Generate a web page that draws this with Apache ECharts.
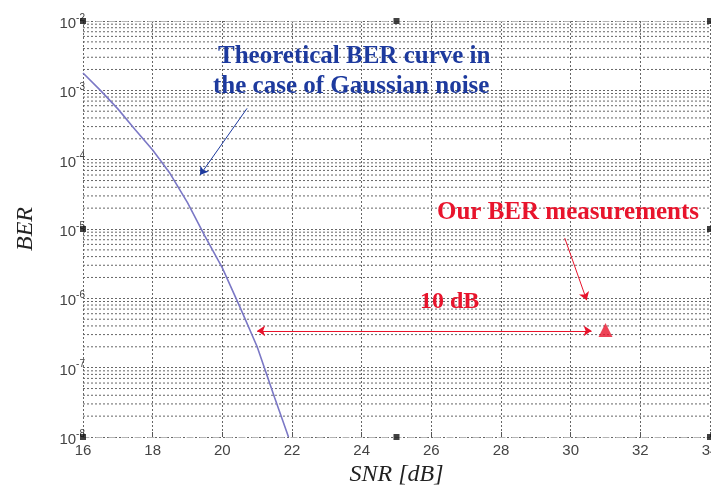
<!DOCTYPE html>
<html>
<head>
<meta charset="utf-8">
<script src="https://cdn.jsdelivr.net/npm/echarts@6/dist/echarts.min.js"></script>
<style>
  html, body { margin: 0; padding: 0; background: #fff; }
  #chart { width: 711px; height: 490px; }
</style>
</head>
<body>
<div id="chart"></div>
<script>
// SNR in dB and theoretical BER
const snr = [16, 16.5, 17, 17.5, 18, 18.5, 19, 19.5, 20, 20.5, 21, 21.5, 21.9]
const berTheory = [1.78e-3, 1.0e-3, 5.4e-4, 2.7e-4, 1.38e-4, 6.3e-5, 2.4e-5, 7.9e-6, 2.75e-6, 7.6e-7, 2.0e-7, 3.7e-8, 1.0e-8]
// measured point
const measSnr = [31]
const measBer = [3.5e-7]
// decades shown on the y axis
const decades = [-8, -7, -6, -5, -4, -3, -2]
// selection handles (matlab edit mode)
const handleX = [16, 25, 34, 16, 34, 16, 25, 34]
const handleY = [1e-2, 1e-2, 1e-2, 1e-5, 1e-5, 1e-8, 1e-8, 1e-8]

// minor log grid values 2..9 x 10^e
const minorVals = []
decades.slice(0, -1).forEach(e => {
  for (let m = 2; m <= 9; m++) minorVals.push(m * Math.pow(10, e))
})

const gridDot = { color: '#666', width: 1, type: [2, 2] }
const blue = '#1d3a9e'
const red = '#e8142c'

const minorSeries = minorVals.map(v => ({
  type: 'line',
  data: [[16, v], [34, v]],
  symbol: 'none',
  silent: true,
  lineStyle: gridDot,
  z: 1
}))

const chart = echarts.init(document.getElementById('chart'))
chart.setOption({
  animation: false,
  grid: { left: 83, right: 1, top: 21, bottom: 53, outerBoundsMode: 'none', containLabel: false },
  xAxis: [
    {
      type: 'value',
      min: 16,
      max: 34,
      interval: 2,
      name: 'SNR [dB]',
      nameLocation: 'middle',
      nameGap: 20,
      nameTextStyle: { fontFamily: 'Liberation Serif', fontStyle: 'italic', fontSize: 24, color: '#222' },
      axisLine: { show: true, lineStyle: { color: '#b5b5b5', type: [6, 7] } },
      axisTick: { show: true, inside: true, length: 5, lineStyle: { color: '#555' } },
      axisLabel: { fontFamily: 'Liberation Sans', fontSize: 15, color: '#444', margin: 6 },
      splitLine: { show: true, lineStyle: gridDot }
    },
    {
      type: 'value',
      position: 'top',
      min: 16,
      max: 34,
      interval: 2,
      axisLine: { show: true, lineStyle: { color: '#b5b5b5', type: [6, 7] } },
      axisTick: { show: false },
      axisLabel: { show: false },
      splitLine: { show: false }
    }
  ],
  yAxis: {
    type: 'log',
    logBase: 10,
    min: 1e-8,
    max: 1e-2,
    splitNumber: 6,
    name: 'BER',
    nameLocation: 'middle',
    nameGap: 45,
    nameTextStyle: { fontFamily: 'Liberation Serif', fontStyle: 'italic', fontSize: 24, color: '#222' },
    axisLine: { show: false },
    axisTick: { show: false },
    axisLabel: {
      margin: -2,
      formatter: v => '{b|10}{s|' + Math.round(Math.log10(v)) + '}',
      rich: {
        b: { fontFamily: 'Liberation Sans', fontSize: 15, color: '#444', padding: [6, 0, 0, 0] },
        s: { fontFamily: 'Liberation Sans', fontSize: 10, color: '#444', padding: [0, 0, 6, 0] }
      }
    },
    splitLine: { show: true, lineStyle: gridDot }
  },
  series: minorSeries.concat([
    {
      name: 'theory',
      type: 'line',
      data: snr.map((x, i) => [x, berTheory[i]]),
      smooth: false,
      symbol: 'none',
      lineStyle: { color: '#7b78c6', width: 1.6 },
      z: 5
    },
    {
      name: 'measured',
      type: 'scatter',
      data: measSnr.map((x, i) => [x, measBer[i]]),
      symbol: 'triangle',
      symbolSize: 14,
      itemStyle: { color: red },
      z: 6
    },
    {
      name: 'handles',
      type: 'scatter',
      data: handleX.map((x, i) => [x, handleY[i]]),
      symbol: 'rect',
      symbolSize: 6,
      clip: false,
      itemStyle: { color: '#111' },
      z: 7
    },
    {
      name: 'arrows',
      type: 'line',
      data: [],
      markLine: {
        silent: true,
        label: { show: false },
        symbolSize: 8,
        data: [
          [
            { coord: [20.71, 5.5e-4], symbol: 'none', lineStyle: { color: blue, width: 1, type: 'solid' } },
            { coord: [19.36, 6.0e-5], symbol: 'arrow' }
          ],
          [
            { coord: [29.83, 7.4e-6], symbol: 'none', lineStyle: { color: red, width: 1, type: 'solid' } },
            { coord: [30.46, 9.4e-7], symbol: 'arrow' }
          ],
          [
            { coord: [21.0, 3.4e-7], symbol: 'arrow', lineStyle: { color: red, width: 1, type: 'solid' } },
            { coord: [30.6, 3.4e-7], symbol: 'arrow' }
          ]
        ]
      }
    }
  ]),
  graphic: [
    { type: 'text', left: 218, top: 44, z: 10, style: { text: 'Theoretical BER curve in', font: 'bold 25px "Liberation Serif"', fill: blue } },
    { type: 'text', left: 213, top: 74, z: 10, style: { text: 'the case of Gaussian noise', font: 'bold 25px "Liberation Serif"', fill: blue } },
    { type: 'text', left: 437, top: 200, z: 10, style: { text: 'Our BER measurements', font: 'bold 25px "Liberation Serif"', fill: red } },
    { type: 'text', left: 420, top: 290, z: 10, style: { text: '10 dB', font: 'bold 24px "Liberation Serif"', fill: red } }
  ]
})
</script>
</body>
</html>
